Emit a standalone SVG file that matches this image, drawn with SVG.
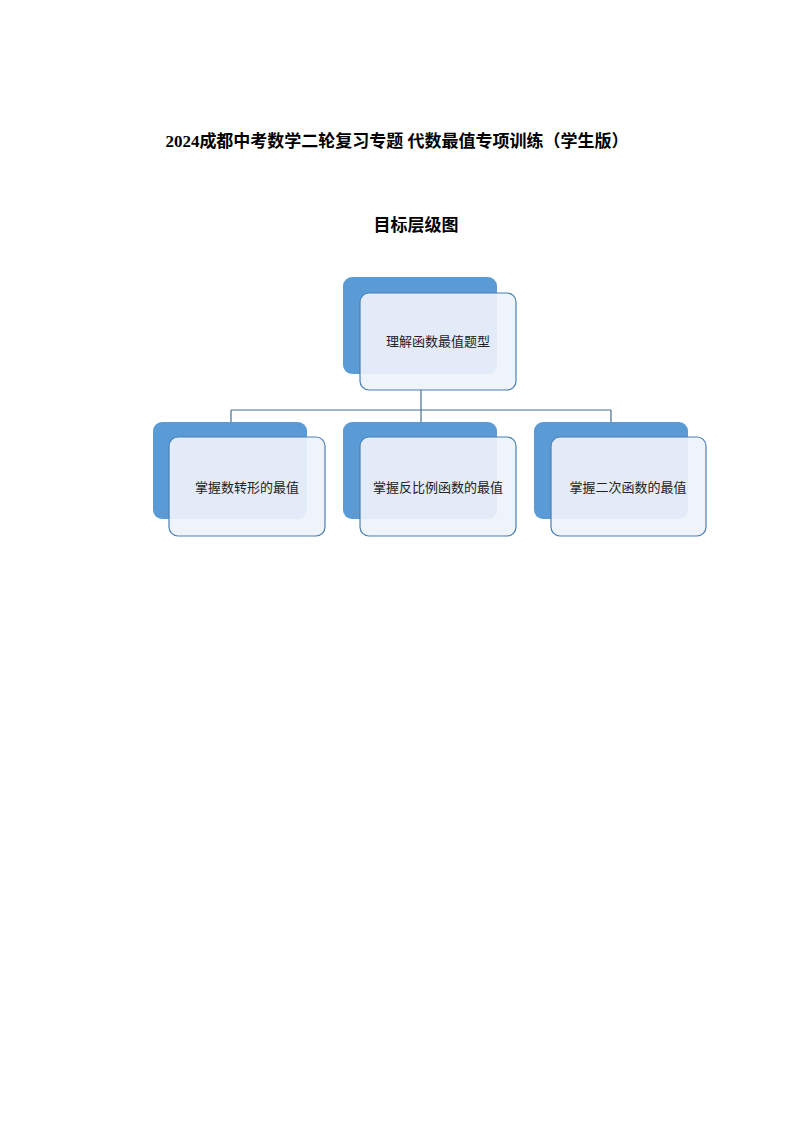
<svg xmlns="http://www.w3.org/2000/svg" width="794" height="1122" viewBox="0 0 794 1122">
<style>
.t{font-family:"Liberation Serif","Noto Sans CJK SC",serif;font-weight:bold;font-size:17px;fill:#000}
.b{fill:#5b9bd5}
.f{fill:#eef2fa;fill-opacity:0.92;stroke:#4a7fb5;stroke-width:1.2}
.l{font-family:"Liberation Serif","Noto Sans CJK SC",serif;font-size:13px;fill:#222;text-anchor:middle}
.c{fill:none;stroke:#4a6f8f;stroke-width:1.2}
</style>
<rect width="794" height="1122" fill="#fff"/>
<text class="t" x="397" y="147" text-anchor="middle">2024成都中考数学二轮复习专题 代数最值专项训练（学生版）</text>
<text class="t" x="416" y="231" text-anchor="middle">目标层级图</text>
<g id="connectors">
<path class="c" d="M421 390V410M231 410H611M231 410V422M421 410V422M611 410V422"/>
</g>
<g id="n0"><rect class="b" x="343" y="277" width="154" height="97" rx="9"/><rect class="f" x="360" y="293" width="156" height="97" rx="9"/><text class="l" x="438" y="346">理解函数最值题型</text></g>
<g id="n1"><rect class="b" x="153" y="422" width="154" height="97" rx="9"/><rect class="f" x="169" y="437" width="156" height="99" rx="9"/><text class="l" x="247" y="492">掌握数转形的最值</text></g>
<g id="n2"><rect class="b" x="343" y="422" width="154" height="97" rx="9"/><rect class="f" x="360" y="437" width="156" height="99" rx="9"/><text class="l" x="438" y="492">掌握反比例函数的最值</text></g>
<g id="n3"><rect class="b" x="534" y="422" width="154" height="97" rx="9"/><rect class="f" x="551" y="437" width="155" height="99" rx="9"/><text class="l" x="628" y="492">掌握二次函数的最值</text></g>
</svg>
